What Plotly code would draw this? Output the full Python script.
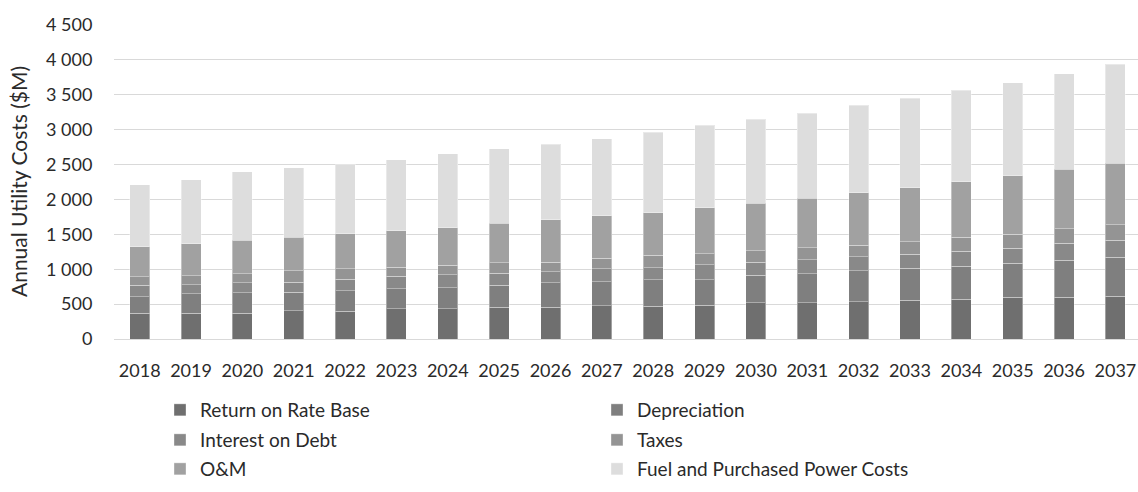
import plotly.graph_objects as go

# Annual utility cost components, $M
years = [str(y) for y in range(2018, 2038)]

return_on_rate_base = [369, 370, 369, 402, 400, 433, 433, 452, 452, 480,
                       469, 483, 516, 516, 531, 558, 568, 601, 601, 611]
depreciation = [238, 277, 296, 268, 289, 290, 304, 318, 356, 338,
                377, 368, 397, 416, 444, 459, 477, 483, 530, 563]
interest_on_debt = [163, 129, 138, 143, 165, 176, 181, 171, 157, 190,
                    172, 210, 187, 201, 201, 200, 215, 219, 244, 244]
taxes = [120, 133, 129, 162, 153, 128, 137, 153, 138, 152,
         182, 158, 162, 172, 168, 177, 201, 201, 205, 219]
om = [434, 459, 483, 483, 498, 528, 542, 565, 604, 609,
      612, 665, 684, 713, 755, 773, 792, 835, 850, 883]
fuel_and_purchased_power = [888, 917, 979, 998, 995, 1012, 1061, 1065, 1084, 1103,
                            1152, 1176, 1200, 1214, 1248, 1284, 1313, 1336, 1374, 1418]

y_tick_values = [0, 500, 1000, 1500, 2000, 2500, 3000, 3500, 4000, 4500]
y_tick_labels = ["0", "500", "1 000", "1 500", "2 000", "2 500",
                 "3 000", "3 500", "4 000", "4 500"]

series = [
    ("Return on Rate Base", return_on_rate_base, "#6f6f6f", "legend"),
    ("Depreciation", depreciation, "#7f7f7f", "legend"),
    ("Interest on Debt", interest_on_debt, "#898989", "legend2"),
    ("Taxes", taxes, "#949494", "legend2"),
    ("O&M", om, "#a1a1a1", "legend3"),
    ("Fuel and Purchased Power Costs", fuel_and_purchased_power, "#dddddd", "legend3"),
]

FONT = "Lato, 'Liberation Sans', sans-serif"
TEXT = "#2a2a2a"
W, H = 1138, 492
L, R, T, B = 114, 0, 25, 153

fig = go.Figure()
for name, vals, color, leg in series:
    fig.add_trace(go.Bar(
        x=years, y=vals, name=name, legend=leg,
        marker=dict(color=color, line=dict(color="rgba(255,255,255,0.35)", width=1)),
    ))

# one legend per row, two entries each
row_centres = [410, 440, 469]
legend_common = dict(
    orientation="h", xref="container", yref="container", traceorder="normal",
    x=160 / W, xanchor="left", yanchor="middle",
    entrywidth=392, entrywidthmode="pixels",
    font=dict(family=FONT, size=19, color=TEXT),
    bgcolor="rgba(0,0,0,0)", borderwidth=0,
)

fig.update_layout(
    width=W, height=H,
    barmode="stack", bargap=0.61,
    plot_bgcolor="white", paper_bgcolor="white",
    margin=dict(l=L, r=R, t=T, b=B),
    font=dict(family=FONT, color=TEXT, size=17),
    legend=dict(**legend_common, y=1 - row_centres[0] / H),
    legend2=dict(**legend_common, y=1 - row_centres[1] / H),
    legend3=dict(**legend_common, y=1 - row_centres[2] / H),
    xaxis=dict(
        type="category", range=[-0.5, 19.44],
        showgrid=False, showline=False,
        ticks="outside", ticklen=15, tickcolor="rgba(0,0,0,0)",
        tickfont=dict(family=FONT, size=18, color=TEXT),
    ),
    yaxis=dict(
        range=[0, 4500], tickvals=y_tick_values, ticktext=y_tick_labels,
        showgrid=True, gridcolor="#d9d9d9", gridwidth=1.3,
        zeroline=True, zerolinecolor="#d9d9d9", zerolinewidth=1.3,
        ticks="outside", ticklen=17, tickcolor="rgba(0,0,0,0)",
        tickfont=dict(family=FONT, size=18, color=TEXT),
    ),
    annotations=[dict(
        text="Annual Utility Costs ($M)", textangle=-90, showarrow=False,
        xref="paper", yref="paper", x=(18 - L) / (W - L - R), y=0.5,
        xanchor="center", yanchor="middle",
        font=dict(family=FONT, size=21, color=TEXT),
    )],
)

fig.write_html("out.html")
